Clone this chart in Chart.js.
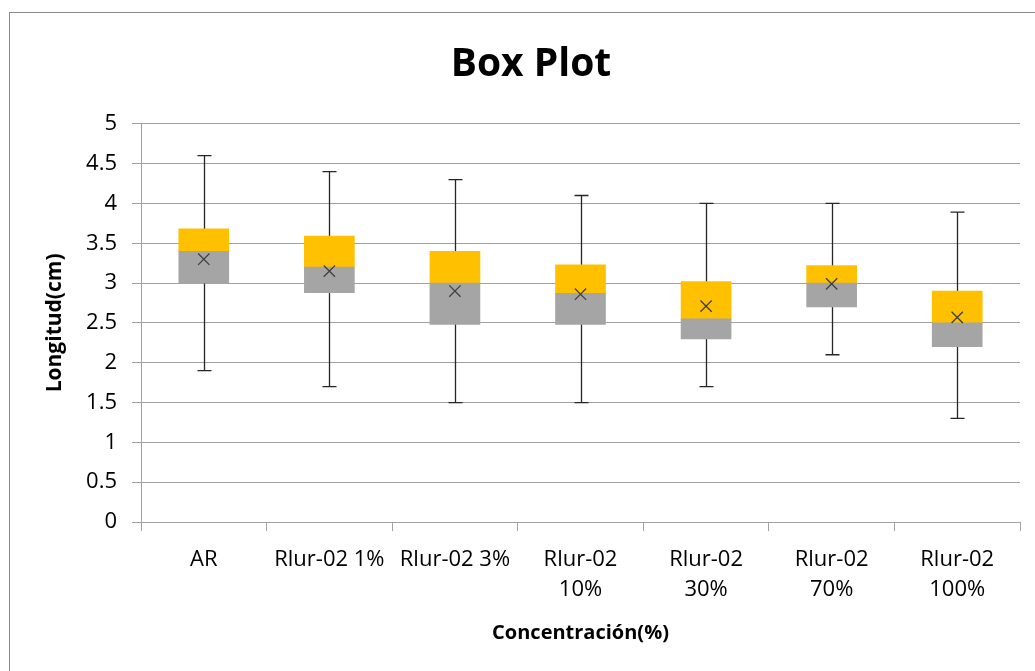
<!DOCTYPE html>
<html>
<head>
<meta charset="utf-8">
<title>Box Plot</title>
<script src="https://cdn.jsdelivr.net/npm/chart.js@4/dist/chart.umd.min.js"></script>
<style>
    html, body { margin: 0; padding: 0; background: #fff; }
    .chart-wrap { position: relative; width: 1035px; height: 671px; }
    .chart-frame {
        position: absolute; left: 9px; top: 12px; width: 1100px; height: 700px;
        border-left: 1px solid #8a8a8a; border-top: 1px solid #8a8a8a;
        pointer-events: none;
    }
</style>
</head>
<body>
<div class="chart-wrap">
    <canvas id="box-chart" width="1035" height="671"></canvas>
    <div class="chart-frame"></div>
</div>
<script>
// Categorías y estadísticos de cada grupo
const categorias = ['AR', 'Rlur-02 1%', 'Rlur-02 3%', ['Rlur-02', '10%'], ['Rlur-02', '30%'], ['Rlur-02', '70%'], ['Rlur-02', '100%']];
const minimos  = [1.9, 1.7, 1.5, 1.5, 1.7, 2.1, 1.3];
const q1       = [3.0, 2.88, 2.48, 2.48, 2.3, 2.7, 2.2];
const medianas = [3.4, 3.2, 3.0, 2.87, 2.55, 3.0, 2.5];
const q3       = [3.68, 3.59, 3.4, 3.23, 3.02, 3.22, 2.9];
const maximos  = [4.6, 4.4, 4.3, 4.1, 4.0, 4.0, 3.89];
const medias   = [3.3, 3.15, 2.9, 2.86, 2.71, 2.99, 2.57];
const yTicks   = [0, 0.5, 1, 1.5, 2, 2.5, 3, 3.5, 4, 4.5, 5];

const FONT = "'Open Sans', 'Noto Sans', sans-serif";

// Bigotes: línea de mínimo a máximo con remates, dibujados debajo de las cajas
const whiskers = {
    id: 'whiskers',
    beforeDatasetsDraw(chart) {
        const ctx = chart.ctx;
        const x = chart.scales.x;
        const y = chart.scales.y;
        ctx.save();
        ctx.strokeStyle = '#262626';
        ctx.lineWidth = 1.3;
        categorias.forEach((c, i) => {
            const px = Math.round(x.getPixelForValue(i)) + 0.5;
            const top = y.getPixelForValue(maximos[i]);
            const bot = y.getPixelForValue(minimos[i]);
            ctx.beginPath();
            ctx.moveTo(px, top);
            ctx.lineTo(px, bot);
            ctx.moveTo(px - 7, top);
            ctx.lineTo(px + 7, top);
            ctx.moveTo(px - 7, bot);
            ctx.lineTo(px + 7, bot);
            ctx.stroke();
        });
        ctx.restore();
    }
};

const boxCtx = document.getElementById('box-chart').getContext('2d');
const boxChart = new Chart(boxCtx, {
    type: 'bar',
    data: {
        labels: categorias,
        datasets: [
            {
                label: 'Q1 - Mediana',
                data: q1.map((v, i) => [v, medianas[i]]),
                backgroundColor: '#A5A5A5',
                barThickness: 50,
                grouped: false,
                order: 2
            },
            {
                label: 'Mediana - Q3',
                data: medianas.map((v, i) => [v, q3[i]]),
                backgroundColor: '#FFC000',
                barThickness: 50,
                grouped: false,
                order: 2
            },
            {
                type: 'line',
                label: 'Media',
                data: medias,
                showLine: false,
                pointStyle: 'crossRot',
                pointRadius: 8,
                pointBorderWidth: 1.3,
                borderColor: '#404040',
                backgroundColor: '#404040',
                order: 1
            }
        ]
    },
    options: {
        responsive: false,
        animation: false,
        layout: { padding: { left: 42, right: 15, top: 0, bottom: 0 } },
        plugins: {
            legend: { display: false },
            tooltip: { enabled: false },
            title: {
                display: true,
                text: 'Box Plot',
                color: '#000',
                font: { family: FONT, size: 39, weight: 'bold', lineHeight: 1.2 },
                padding: { top: 41, bottom: 36 }
            }
        },
        scales: {
            x: {
                afterFit: s => { s.height = 149; },
                grid: { drawOnChartArea: false, drawTicks: true, tickLength: 9, color: '#A0A0A0', offset: true },
                border: { color: '#A0A0A0' },
                ticks: {
                    color: '#000',
                    autoSkip: false,
                    maxRotation: 0,
                    minRotation: 0,
                    padding: 14,
                    font: { family: FONT, size: 22, lineHeight: 1.36 }
                },
                title: {
                    display: true,
                    text: 'Concentración(%)',
                    color: '#000',
                    font: { family: FONT, size: 20, weight: 'bold', lineHeight: 1.2 },
                    padding: { top: 0, bottom: 26 }
                }
            },
            y: {
                min: 0,
                max: 5,
                afterFit: s => { s.width = 99; },
                afterBuildTicks: s => { s.ticks = yTicks.map(v => ({ value: v })); },
                grid: { color: '#A0A0A0', lineWidth: 1, tickLength: 9 },
                border: { color: '#A0A0A0' },
                ticks: {
                    color: '#000',
                    padding: 15,
                    font: { family: FONT, size: 22 },
                    callback: v => v
                },
                title: {
                    display: true,
                    text: 'Longitud(cm)',
                    color: '#000',
                    font: { family: FONT, size: 21, weight: 'bold', lineHeight: 1.2 },
                    padding: { top: 0, bottom: 0 }
                }
            }
        }
    },
    plugins: [whiskers]
});
</script>
</body>
</html>
